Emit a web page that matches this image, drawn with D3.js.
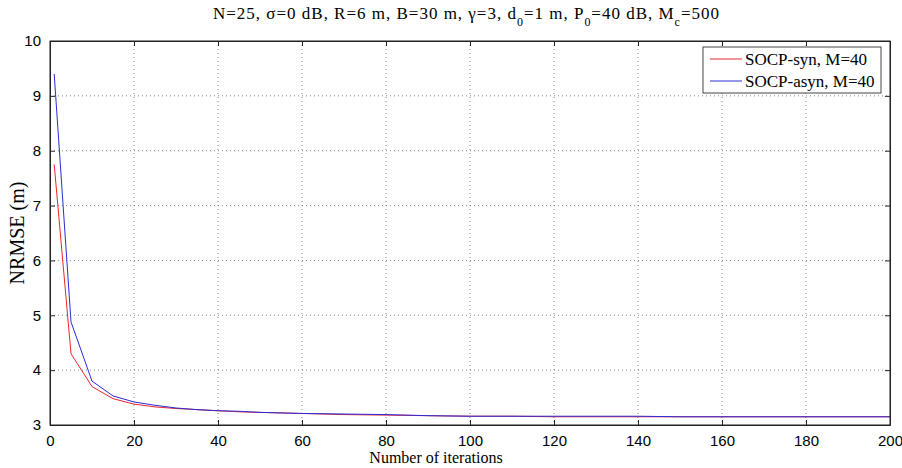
<!DOCTYPE html>
<html lang="en">
<head>
<meta charset="UTF-8">
<title>NRMSE vs iterations</title>
<script src="https://d3js.org/d3.v7.min.js"></script>
<style>
  body { margin: 0; background: #fff; }
  .serif { font-family: "Liberation Serif", "Times New Roman", serif; fill: #000; }
</style>
</head>
<body>
<svg width="902" height="468"></svg>
<script>
// data
const iterations = [1, 5, 10, 15, 20, 25, 30, 35, 40, 45, 50, 60, 70, 80, 90, 100, 110, 120, 130, 140, 150, 160, 170, 180, 190, 200];
const socpSyn  = [7.75, 4.30, 3.70, 3.48, 3.38, 3.33, 3.30, 3.28, 3.26, 3.24, 3.23, 3.21, 3.19, 3.18, 3.17, 3.16, 3.16, 3.15, 3.15, 3.15, 3.15, 3.15, 3.15, 3.15, 3.15, 3.15];
const socpAsyn = [9.40, 4.88, 3.80, 3.53, 3.42, 3.36, 3.31, 3.28, 3.26, 3.25, 3.23, 3.21, 3.20, 3.19, 3.17, 3.16, 3.16, 3.16, 3.16, 3.16, 3.15, 3.15, 3.15, 3.15, 3.15, 3.15];
const xTicks = [0, 20, 40, 60, 80, 100, 120, 140, 160, 180, 200];
const yTicks = [3, 4, 5, 6, 7, 8, 9, 10];
const series = [
  {name: "SOCP-syn, M=40", values: socpSyn, color: "#e8262b"},
  {name: "SOCP-asyn, M=40", values: socpAsyn, color: "#2b2bd8"}
];

const margin = {top: 41, right: 12, bottom: 43, left: 50},
      width = 902 - margin.left - margin.right,
      height = 468 - margin.top - margin.bottom;

const svg = d3.select("svg");
const g = svg.append("g").attr("transform", `translate(${margin.left},${margin.top})`);

const x = d3.scaleLinear().domain([0, 200]).range([0, width]);
const y = d3.scaleLinear().domain([3, 10]).range([height, 0]);

// grid
g.append("g").selectAll("line").data(xTicks.slice(1, -1)).join("line")
  .attr("x1", d => x(d)).attr("x2", d => x(d)).attr("y1", 0).attr("y2", height)
  .attr("stroke", "#888").attr("stroke-dasharray", "1,3");
g.append("g").selectAll("line").data(yTicks.slice(1, -1)).join("line")
  .attr("y1", d => y(d)).attr("y2", d => y(d)).attr("x1", 0).attr("x2", width)
  .attr("stroke", "#888").attr("stroke-dasharray", "1,3");

// axes, ticks inward like matlab
g.append("g").attr("transform", `translate(0,${height})`)
  .call(d3.axisBottom(x).tickValues(xTicks).tickFormat(d3.format("d"))
    .tickSizeInner(-5).tickSizeOuter(0).tickPadding(10));
g.append("g")
  .call(d3.axisLeft(y).tickValues(yTicks).tickFormat(d3.format("d"))
    .tickSizeInner(-5).tickSizeOuter(0).tickPadding(9));
g.append("g").call(d3.axisTop(x).tickValues(xTicks).tickSizeInner(-5).tickSizeOuter(0).tickFormat(""));
g.append("g").attr("transform", `translate(${width},0)`)
  .call(d3.axisRight(y).tickValues(yTicks).tickSizeInner(-5).tickSizeOuter(0).tickFormat(""));
g.selectAll(".domain").attr("stroke", "#222");
g.selectAll(".tick line").attr("stroke", "#222");
g.selectAll(".tick text")
  .attr("font-family", "'Liberation Sans', Arial, sans-serif")
  .attr("font-size", 15).attr("fill", "#000");

// lines
const line = d3.line().x((d, i) => x(iterations[i])).y(d => y(d));
series.forEach(s => {
  g.append("path").datum(s.values)
    .attr("fill", "none").attr("stroke", s.color).attr("stroke-width", 1)
    .attr("d", line);
});

// border
g.append("rect").attr("width", width).attr("height", height)
  .attr("fill", "none").attr("stroke", "#222");

// legend
const legend = g.append("g").attr("transform", `translate(${703 - margin.left},${47 - margin.top})`);
legend.append("rect").attr("width", 178).attr("height", 46)
  .attr("fill", "#fff").attr("stroke", "#444");
series.forEach((s, i) => {
  const ly = 12 + i * 22;
  legend.append("line").attr("x1", 7).attr("x2", 39).attr("y1", ly).attr("y2", ly)
    .attr("stroke", s.color);
  legend.append("text").attr("class", "serif").attr("x", 42).attr("y", ly + 6)
    .style("font-size", "17px").text(s.name);
});

// title
const title = svg.append("text").attr("class", "serif")
  .attr("x", 466).attr("y", 19)
  .attr("text-anchor", "middle").style("font-size", "17px")
  .attr("textLength", 506).attr("lengthAdjust", "spacing");
title.append("tspan").text("N=25, ");
title.append("tspan").text("σ=0 dB, R=6 m, B=30 m, γ=3, d");
title.append("tspan").attr("dy", 7).style("font-size", "12px").text("0");
title.append("tspan").attr("dy", -7).text("=1 m, P");
title.append("tspan").attr("dy", 7).style("font-size", "12px").text("0");
title.append("tspan").attr("dy", -7).text("=40 dB, M");
title.append("tspan").attr("dy", 7).style("font-size", "12px").text("c");
title.append("tspan").attr("dy", -7).text("=500");

// axis labels
svg.append("text").attr("class", "serif")
  .attr("x", 436).attr("y", 463)
  .attr("text-anchor", "middle").style("font-size", "16px")
  .text("Number of iterations");
svg.append("text").attr("class", "serif")
  .attr("transform", `translate(24,${margin.top + height / 2}) rotate(-90)`)
  .attr("text-anchor", "middle").style("font-size", "20px")
  .text("NRMSE (m)");
</script>
</body>
</html>
